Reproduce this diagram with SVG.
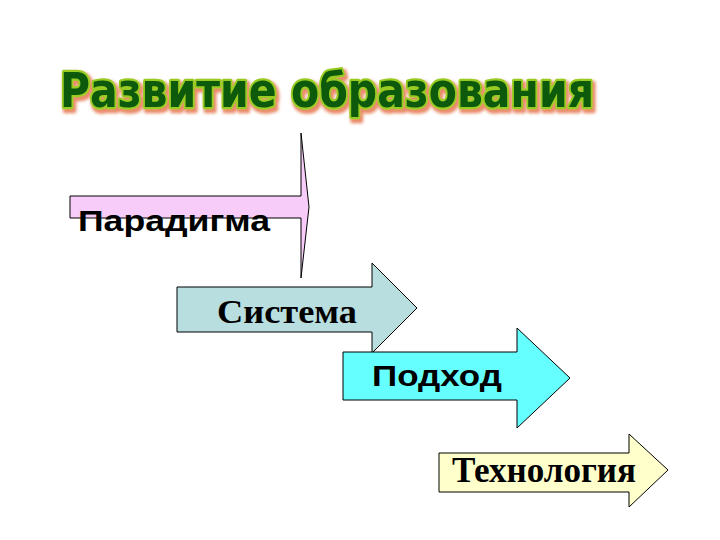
<svg xmlns="http://www.w3.org/2000/svg" width="720" height="540" viewBox="0 0 720 540">
<style>
.arrow{stroke:#000;stroke-width:1;stroke-linejoin:miter}
.sans{font-family:"Liberation Sans",Arial,sans-serif;font-weight:bold;fill:#000}
.serif{font-family:"Liberation Serif","Times New Roman",serif;font-weight:bold;fill:#000}
.title{font-family:"DejaVu Sans","Liberation Sans",sans-serif;font-weight:900}
</style>
<defs>
<filter id="shadow" x="-5%" y="-30%" width="110%" height="160%">
<feOffset in="SourceAlpha" dx="2" dy="3" result="off"/>
<feMorphology in="off" operator="dilate" radius="1" result="dil"/>
<feGaussianBlur in="dil" stdDeviation="1.5" result="blur"/>
<feFlood flood-color="#e05a28" flood-opacity="0.7"/>
<feComposite in2="blur" operator="in" result="sh"/>
<feMerge><feMergeNode in="sh"/><feMergeNode in="SourceGraphic"/></feMerge>
</filter>
</defs>
<rect width="720" height="540" fill="#fff"/>
<g id="title" filter="url(#shadow)">
<text class="title" transform="scale(1,1.1)" x="60" y="97" font-size="44" textLength="534" lengthAdjust="spacingAndGlyphs" fill="#0b5a0b" stroke="#99cc22" stroke-width="4" stroke-linejoin="round" paint-order="stroke">Развитие образования</text>
</g>
<g id="paradigma">
<polygon class="arrow" fill="#f8ccf8" points="70,196 301,196 301,133 309,207 301,278 301,218 70,218"/>
<text class="sans" x="78" y="231" font-size="29" textLength="192" lengthAdjust="spacingAndGlyphs">Парадигма</text>
</g>
<g id="sistema">
<polygon class="arrow" fill="#b8dee0" points="177,287 372,287 372,263 417,308 372,353 372,332 177,332"/>
<text class="serif" x="217" y="323" font-size="34" textLength="140" lengthAdjust="spacingAndGlyphs">Система</text>
</g>
<g id="podhod">
<polygon class="arrow" fill="#66ffff" points="343,352 517,352 517,328 570,378 517,428 517,400 343,400"/>
<text class="sans" x="372" y="386" font-size="30" textLength="130" lengthAdjust="spacingAndGlyphs">Подход</text>
</g>
<g id="tehnologiya">
<polygon class="arrow" fill="#ffffcc" points="439,453 629,453 629,434 668,470 629,507 629,492 439,492"/>
<text class="serif" x="452" y="482" font-size="35" textLength="184" lengthAdjust="spacingAndGlyphs">Технология</text>
</g>
<g id="connectors"/>
</svg>
